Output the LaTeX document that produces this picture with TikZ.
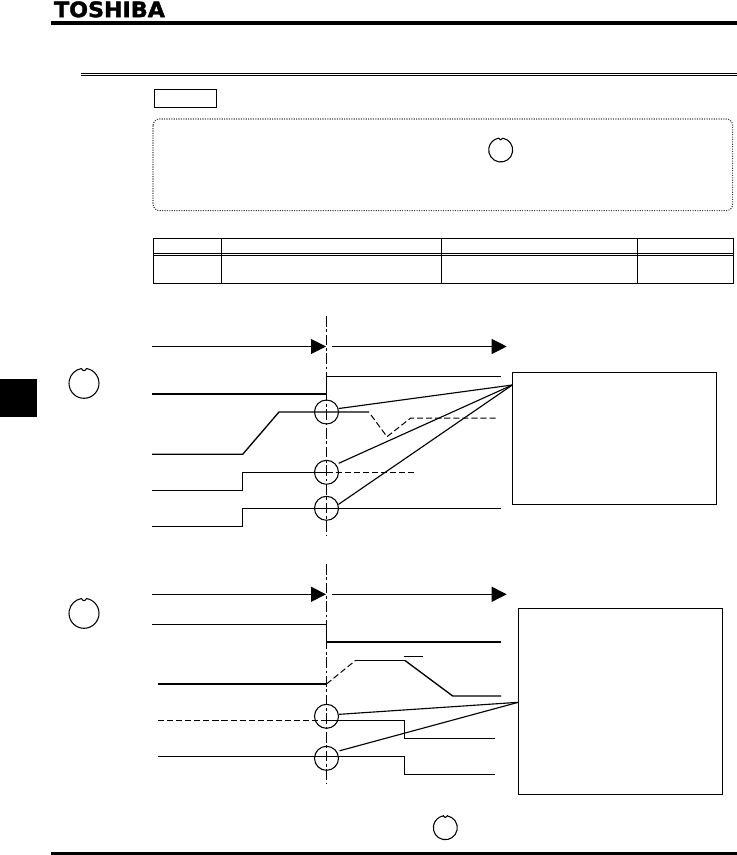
\documentclass[tikz,border=0pt]{standalone}
\usepackage{fontspec}
\newfontfamily\logofont[BoldFeatures={FakeBold=1.6}]{DejaVu Sans}
\usetikzlibrary{arrows.meta, positioning, calc}

\tikzset{
  sigline/.style={line width=0.75pt, line join=miter},
  heavyline/.style={line width=1pt, line join=miter},
  dashline/.style={line width=0.75pt, dash pattern=on 4.6pt off 2.2pt},
  centerline/.style={line width=0.75pt, dash pattern=on 8pt off 2pt on 2pt off 2pt},
  timearrow/.style={line width=0.75pt, -{Triangle[length=11.25pt, width=11.25pt]}},
  leader/.style={line width=0.85pt},
  markring/.style={circle, draw, line width=0.8pt, minimum size=18pt, inner sep=0pt},
  notebox/.style={draw, line width=0.8pt, inner sep=0pt, anchor=north west},
  notchring/.pic={
    \draw[line width=0.8pt, line join=round] (80:9pt) arc[start angle=80, end angle=-260, radius=9pt]
      .. controls (94:7.2pt) and (86:7.2pt) .. (80:9pt);
  }
}

\begin{document}
\begin{tikzpicture}[x=0.75pt, y=-0.75pt]
  \useasboundingbox (0,0) rectangle (737,855);

  % Header and side tab
  \node[font=\logofont\bfseries, scale=1.6, xscale=1.04, inner sep=0pt] (logo) at (109.5,9.4) {TOSHIBA};
  \fill (51,21) rectangle (737,25);
  \fill (51,852) rectangle (737,855);
  \draw[line width=0.75pt] (81,73.6) -- (737,73.6);
  \draw[line width=0.75pt] (81,76) -- (737,76);
  \fill (0,379) rectangle (37,417);

  % Title tag and note frame
  \draw[line width=0.8pt] (154.5,89.5) rectangle (216.5,107.5);
  \draw[line width=0.8pt, black!75, densely dotted, rounded corners=5pt] (153,119) rectangle (732.7,210.7);
  \pic at (500.7,150) {notchring};

  % Table
  \draw[line width=0.8pt] (153.5,238.5) rectangle (733.3,283.3);
  \draw[line width=0.7pt] (153.5,253.7) -- (733.3,253.7);
  \draw[line width=0.7pt] (153.5,255.9) -- (733.3,255.9);
  \foreach \xcol in {221.3,441.3,637.3}
    \draw[line width=0.8pt] (\xcol,238.5) -- (\xcol,283.3);

  % First chart
  \pic[scale=1.25] at (84,383.3) {notchring};
  \draw[centerline] (326.5,316) -- (326.5,536);
  \draw[timearrow] (152,346.5) -- (326,346.5);
  \draw[timearrow] (332,346.5) -- (506.7,346.5);
  \draw[heavyline] (152,394) -- (326.5,394) -- (326.5,376.5) -- (501,376.5);
  \draw[heavyline] (152,454.3) -- (242.7,454.3) -- (279,412) -- (369,412);
  \draw[dashline] (371,415) -- (387,436.7) -- (410.7,418) -- (498,418);
  \draw[sigline] (152,490.3) -- (242.5,490.3) -- (242.5,472.3) -- (326.5,472.3);
  \draw[dashline] (326.5,472.3) -- (414,472.3);
  \draw[sigline] (152,526.3) -- (242.5,526.3) -- (242.5,508.3) -- (501,508.3);
  \node[markring] (mark1) at (326.5,412) {};
  \node[markring] (mark2) at (326.5,472.3) {};
  \node[markring] (mark3) at (326.5,508.3) {};
  \node[notebox, minimum width=153pt, minimum height=99pt] (note1) at (512,372) {};
  \coordinate (apex1) at (512.3,385);
  \draw[leader] (mark1.16) -- (apex1);
  \draw[leader, shorten <=2pt] (mark2.39) -- (apex1);
  \draw[leader] (mark3.18) -- (apex1);

  % Second chart
  \pic[scale=1.25] at (84,613.3) {notchring};
  \draw[centerline] (326.5,564) -- (326.5,784);
  \draw[timearrow] (152,594.3) -- (326,594.3);
  \draw[timearrow] (332,594.3) -- (506.7,594.3);
  \draw[sigline] (152,624.3) -- (326.5,624.3) -- (326.5,642);
  \draw[line width=1.5pt] (326.5,642) -- (501,642);
  \draw[heavyline] (158,684) -- (326.5,684);
  \draw[dashline] (326.5,684) -- (355.7,660.3);
  \draw[sigline] (355.7,660.3) -- (404.7,660.3);
  \draw[heavyline] (404.7,660.3) -- (452.7,696) -- (501,696);
  \draw[sigline] (404,656) -- (423,656);
  \draw[dashline] (158,720.3) -- (326.5,720.3);
  \draw[sigline] (326.5,720.3) -- (404.5,720.3) -- (404.5,738.3) -- (495,738.3);
  \draw[sigline] (158,756.3) -- (404.5,756.3) -- (404.5,774.3) -- (495,774.3);
  \node[markring] (mark4) at (326.5,716.3) {};
  \node[markring] (mark5) at (326.5,758.3) {};
  \node[notebox, minimum width=153pt, minimum height=139.5pt] (note2) at (518,608) {};
  \coordinate (apex2) at (518.3,702.3);
  \draw[leader] (mark4.9) -- (apex2);
  \draw[leader, shorten <=2pt] (mark5.33) -- (apex2);

  % Footnote mark
  \pic at (445.3,827.7) {notchring};
  \fill (442.5,814.7) rectangle (443.7,815.9);
  \fill (446.8,814.7) rectangle (448,815.9);
\end{tikzpicture}
\end{document}
